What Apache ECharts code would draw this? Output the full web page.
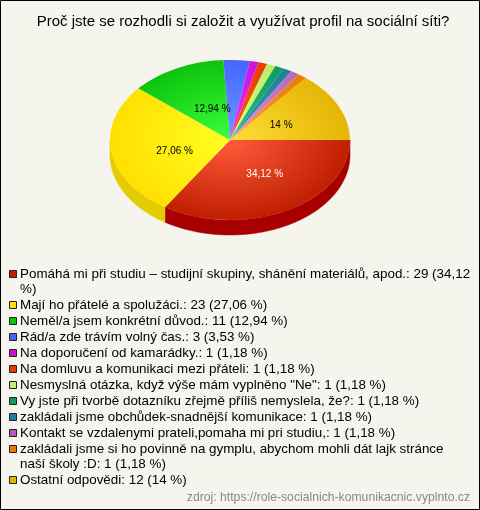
<!DOCTYPE html>
<html><head><meta charset="utf-8">
<style>html,body{margin:0;padding:0;background:#f5f4ed}#c{width:480px;height:510px}</style>
<script src="https://cdn.jsdelivr.net/npm/echarts@6/dist/echarts.min.js"></script>
</head><body><div id="c"></div>
<script>
const titleText = 'Proč jste se rozhodli si založit a využívat profil na sociální síti?';
const sourceText = 'zdroj: https://role-socialnich-komunikacnic.vyplnto.cz';
const categories = [
  'Pomáhá mi při studiu – studijní skupiny, shánění materiálů, apod.',
  'Mají ho přátelé a spolužáci.',
  'Neměl/a jsem konkrétní důvod.',
  'Rád/a zde trávím volný čas.',
  'Na doporučení od kamarádky.',
  'Na domluvu a komunikaci mezi přáteli',
  'Nesmyslná otázka, když výše mám vyplněno "Ne"',
  'Vy jste při tvorbě dotazníku zřejmě příliš nemyslela, že?',
  'zakládali jsme obchůdek-snadnější komunikace',
  'Kontakt se vzdalenymi prateli,pomaha mi pri studiu,',
  'zakládali jsme si ho povinně na gymplu, abychom mohli dát lajk stránce naší školy :D',
  'Ostatní odpovědi'
];
const values = [29, 23, 11, 3, 1, 1, 1, 1, 1, 1, 1, 12];
const percents = ['34,12', '27,06', '12,94', '3,53', '1,18', '1,18', '1,18', '1,18', '1,18', '1,18', '1,18', '14'];
const sliceLabels = ['34,12 %', '27,06 %', '12,94 %', '', '', '', '', '', '', '', '', '14 %'];

// style
const innerColors = ['#ff5c3c','#ffff22','#3cff3c','#7099ff','#ee33ff','#ff5a14','#d0ff80','#28c080','#3a9cb0','#e090e0','#ffa030','#ffdd38'];
const outerColors = ['#bf1f00','#ffe000','#0cc40c','#4466ff','#cc11dd','#e83c00','#bbee66','#0c9c60','#1f7f99','#bb66bb','#e87c00','#e5b505'];
const swatchColors = ['#c02000','#ffe000','#0cc40c','#4466ff','#cc11cc','#e83c00','#c0f070','#0c9c60','#1f7f99','#bb55bb','#e87c00','#e5b505'];
const wallColors = {0:'#a80000',1:'#e3cc00'};
const labelNudge = {0:[6,-1],1:[4,5],2:[9,5],11:[-3,2]};
const cx=230, cy=140, rx=120, ry=80, depth=15;
const FONT='"Liberation Sans", Arial, sans-serif';
const total = values.reduce((a,b)=>a+b,0);
const starts=[]; values.reduce((acc,v,i)=>{starts[i]=acc;return acc+v;},0);
const ang = v => v/total*Math.PI*2;

function wallItem(params, api){
  const i=params.dataIndex;
  const a0=ang(starts[i]), a1=Math.min(ang(starts[i]+values[i]),Math.PI);
  if(a0>=Math.PI) return {type:'group',children:[]};
  const top=[],bot=[];
  const n=Math.max(2,Math.ceil((a1-a0)/0.01));
  for(let k=0;k<=n;k++){
    const a=a0+(a1-a0)*k/n, x=cx+rx*Math.cos(a), y=cy+ry*Math.sin(a);
    top.push([x,y]); bot.unshift([x,y+depth]);
  }
  return {type:'polygon',shape:{points:top.concat(bot)},style:{fill:wallColors[i]||'#888',stroke:wallColors[i]||'#888',lineWidth:.5},silent:true};
}
function sliceItem(params, api){
  const i=params.dataIndex;
  const a0=ang(starts[i]), a1=ang(starts[i]+api.value(0));
  const stops=[{offset:0,color:innerColors[i]},{offset:1,color:outerColors[i]}];
  return {type:'group',x:0,y:cy,scaleY:ry/rx,children:[
    {type:'sector',shape:{cx:cx,cy:0,r:rx,r0:0,startAngle:a0,endAngle:a1,clockwise:true},
     style:{fill:{type:'radial',x:cx,y:0,r:rx,global:true,colorStops:stops}},silent:true}
  ]};
}
function labelItem(params, api){
  const i=params.dataIndex;
  if(!sliceLabels[i]) return {type:'group',children:[]};
  const m=ang(starts[i]+values[i]/2), n=labelNudge[i]||[0,0];
  return {type:'text',x:cx+rx*.5*Math.cos(m)+n[0],y:cy+ry*.5*Math.sin(m)+n[1],
    style:{text:sliceLabels[i],fill:i===0?'#fff':'#000',font:'10px '+FONT,align:'center',verticalAlign:'middle'},silent:true};
}
const seriesData=categories.map((n,i)=>({name:n,value:values[i]}));
const legendLines=categories.map((n,i)=>n+': '+values[i]+' ('+percents[i]+' %)');
// explicit line breaks as in the reference
legendLines[0]=legendLines[0].replace('34,12 %','34,12\n%');
legendLines[10]=legendLines[10].replace('stránce naší','stránce\nnaší');
const g=[{type:'rect',shape:{x:.5,y:.5,width:479,height:509},style:{fill:'none',stroke:'#000',lineWidth:1},silent:true}];
let ly=274;
legendLines.forEach((t,i)=>{
  g.push({type:'rect',shape:{x:9.5,y:ly-3.5,width:7,height:7},style:{fill:swatchColors[i],stroke:'#222',lineWidth:1},silent:true});
  const parts=t.split('\n');
  parts.forEach((p,k)=>{
    g.push({type:'text',x:20,y:ly,style:{text:p,fill:'#000',font:'13.4px '+FONT,verticalAlign:'middle'},silent:true});
    if(k<parts.length-1) ly+=15;
  });
  ly+=16;
});
g.push({type:'text',x:470,y:498,style:{text:sourceText,fill:'#888',font:'12.2px '+FONT,align:'right',verticalAlign:'middle'},silent:true});
const chart=echarts.init(document.getElementById('c'),null,{renderer:'canvas'});
chart.setOption({
  animation:false,backgroundColor:'#f5f4ed',
  title:{text:titleText,left:238,textAlign:'center',top:9,textStyle:{fontFamily:FONT,fontSize:15,fontWeight:'normal',color:'#000'}},
  graphic:g,
  series:[
    {type:'custom',coordinateSystem:'none',renderItem:wallItem,data:seriesData,z:1,silent:true},
    {type:'custom',coordinateSystem:'none',renderItem:sliceItem,data:seriesData,z:2,silent:true},
    {type:'custom',coordinateSystem:'none',renderItem:labelItem,data:seriesData,z:3,silent:true}
  ]
});
</script></body></html>
